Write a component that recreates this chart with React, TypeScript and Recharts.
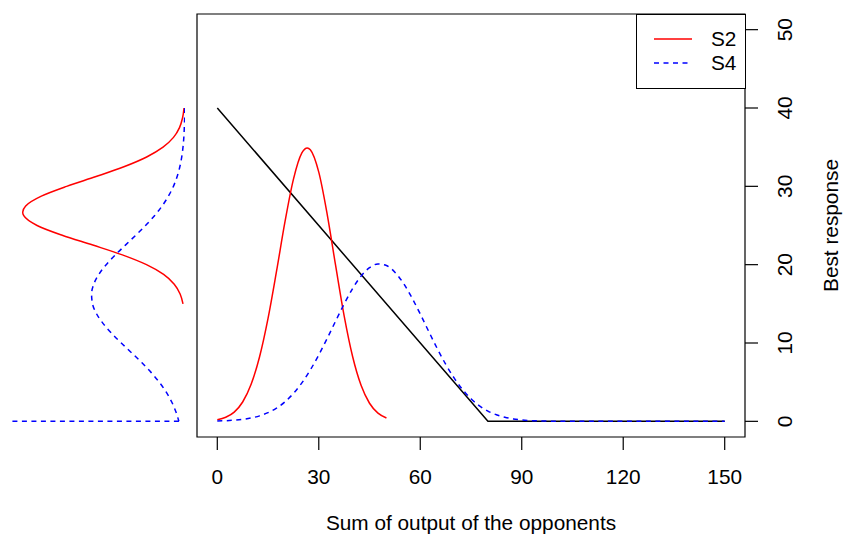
import React from 'react'
import { ComposedChart, LineChart, Line, XAxis, YAxis, ReferenceArea, Legend, Label } from 'recharts'

const FONT = '"Liberation Sans", Arial, Helvetica, sans-serif'
const FS = 20.8

// sum of output of the opponents, with the S2 density drawn over it
const s2Output = [0, 2.5, 5, 7.5, 10, 12.5, 15, 17.5, 20, 22.5, 25, 26.6, 27.5, 30, 32.5, 35, 37.5, 40, 42.5, 45, 47.5, 50]
const s2Density = [0.21, 0.52, 1.18, 2.47, 4.72, 8.24, 13.14, 19.13, 25.45, 30.89, 34.26, 34.9, 34.67, 31.81, 26.4, 19.83, 13.47, 8.28, 4.6, 2.31, 1.05, 0.43]

// S4 density (dashed blue)
const s4Output = [0, 2.5, 5, 7.5, 10, 12.5, 15, 17.5, 20, 22.5, 25, 27.5, 30, 32.5, 35, 37.5, 40, 42.5, 45, 47.5, 50, 52.5, 55, 57.5, 60, 62.5, 65, 67.5, 70, 72.5, 75, 77.5, 80, 82.5, 85, 87.5, 90, 92.5, 95, 97.5, 100, 110, 120, 130, 140, 150]
const s4Density = [0.04, 0.08, 0.15, 0.25, 0.43, 0.7, 1.11, 1.69, 2.49, 3.56, 4.91, 6.56, 8.48, 10.6, 12.81, 14.98, 16.95, 18.54, 19.62, 20.09, 19.89, 19.04, 17.64, 15.8, 13.7, 11.48, 9.31, 7.3, 5.54, 4.06, 2.88, 1.98, 1.31, 0.84, 0.52, 0.31, 0.18, 0.1, 0.06, 0.03, 0.02, 0, 0, 0, 0, 0]

// best response line
const brOutput = [0, 80, 150]
const brValue = [40, 0, 0]

// left margin: the same densities seen on the best-response scale
const s2Levels = [40, 38.75, 37.5, 36.25, 35, 33.75, 32.5, 31.25, 30, 28.75, 27.5, 26.7, 26.25, 25, 23.75, 22.5, 21.25, 20, 18.75, 17.5, 16.25, 15]
const s4Levels = [40, 38.75, 37.5, 36.25, 35, 33.75, 32.5, 31.25, 30, 28.75, 27.5, 26.25, 25, 23.75, 22.5, 21.25, 20, 18.75, 17.5, 16.25, 15, 13.75, 12.5, 11.25, 10, 8.75, 7.5, 6.25, 5, 3.75, 2.5, 1.25, 0]
const s4MassAtZero = 37.3

const xTicks = [0, 30, 60, 90, 120, 150]
const yTicks = [0, 10, 20, 30, 40, 50]

const toPoints = (xs: number[], ys: number[]) => xs.map((x, i) => ({ x, y: ys[i] }))
const toLevels = (levels: number[], widths: number[]) => levels.map((level, i) => ({ w: widths[i], level }))

const brPoints = toPoints(brOutput, brValue)
const s2Points = toPoints(s2Output, s2Density)
const s4Points = toPoints(s4Output, s4Density)
const s2Side = toLevels(s2Levels, s2Density)
const s4Side = toLevels(s4Levels, s4Density.slice(0, s4Levels.length))
const s4Mass = [
  { w: s4Density[s4Levels.length - 1], level: 0 },
  { w: s4MassAtZero, level: 0 },
]

const DASH = '5 4.5'

function RightTick(props: any) {
  const { x, y, payload } = props
  return (
    <text x={x} y={y} transform={`rotate(-90 ${x} ${y})`} textAnchor="middle" fontSize={FS} fontFamily={FONT} fill="#000">
      {payload.value}
    </text>
  )
}

function XTitle(props: any) {
  const { x, y, width } = props.viewBox
  return (
    <text x={x + width / 2} y={y + 93} textAnchor="middle" fontSize={FS} fontFamily={FONT} fill="#000">
      Sum of output of the opponents
    </text>
  )
}

function YTitle(props: any) {
  const { x, y, height } = props.viewBox
  const tx = x + 93
  const ty = y + height / 2
  return (
    <text x={tx} y={ty} transform={`rotate(-90 ${tx} ${ty})`} textAnchor="middle" fontSize={FS} fontFamily={FONT} fill="#000">
      Best response
    </text>
  )
}

function LegendBox(props: any) {
  const items = (props.payload || []).filter((p: any) => p.type !== 'none')
  return (
    <div style={{ position: 'relative', width: 110, height: 75, border: '1.2px solid #000', boxSizing: 'border-box', background: '#fff', fontFamily: FONT, fontSize: FS, color: '#000' }}>
      {items.map((item: any, i: number) => (
        <div key={item.value} style={{ position: 'absolute', left: 0, top: 12 + i * 24, height: 24, display: 'flex', alignItems: 'center' }}>
          <svg width={74} height={24}>
            <line x1={17} x2={55} y1={12} y2={12} stroke={item.color} strokeWidth={1.5} strokeDasharray={item.payload?.strokeDasharray} />
          </svg>
          <span>{item.value}</span>
        </div>
      ))}
    </div>
  )
}

export default function App() {
  return (
    <div style={{ position: 'absolute', left: 0, top: 0, width: 847, height: 536, background: '#fff', fontFamily: FONT }}>
      <div style={{ position: 'absolute', left: 0, top: 0 }}>
        <ComposedChart width={847} height={536} margin={{ top: 14, right: 0, bottom: 0, left: 197 }}>
          <XAxis
            type="number"
            dataKey="x"
            domain={[-6, 156]}
            allowDataOverflow
            ticks={xTicks}
            interval={0}
            height={99}
            axisLine={false}
            tickSize={13}
            tickMargin={19}
            tickLine={{ stroke: '#000', strokeWidth: 1.2 }}
            tick={{ fontSize: FS, fontFamily: FONT, fill: '#000' }}
          >
            <Label content={XTitle} />
          </XAxis>
          <YAxis
            orientation="right"
            type="number"
            domain={[-2, 52]}
            allowDataOverflow
            ticks={yTicks}
            interval={0}
            width={102}
            axisLine={false}
            tickSize={13}
            tickMargin={34}
            tickLine={{ stroke: '#000', strokeWidth: 1.2 }}
            tick={RightTick}
          >
            <Label content={YTitle} />
          </YAxis>
          <ReferenceArea x1={-6} x2={156} y1={-2} y2={52} fill="none" stroke="#000" strokeWidth={1.2} ifOverflow="visible" />
          <Line data={brPoints} dataKey="y" type="linear" stroke="#000" strokeWidth={1.5} dot={false} activeDot={false} legendType="none" isAnimationActive={false} />
          <Line data={s2Points} dataKey="y" name="S2" type="monotone" stroke="#ff0000" strokeWidth={1.5} dot={false} activeDot={false} isAnimationActive={false} />
          <Line data={s4Points} dataKey="y" name="S4" type="monotone" stroke="#0000ff" strokeWidth={1.5} strokeDasharray={DASH} dot={false} activeDot={false} isAnimationActive={false} />
          <Legend layout="vertical" align="center" verticalAlign="middle" wrapperStyle={{ left: 636, top: 14, width: 110 }} content={LegendBox} />
        </ComposedChart>
      </div>
      <div style={{ position: 'absolute', left: 0, top: 0 }}>
        <LineChart width={190} height={536} margin={{ top: 14, right: 5, bottom: 99, left: 0 }}>
          <XAxis type="number" dataKey="w" domain={[0, 39.78]} reversed allowDataOverflow hide />
          <YAxis type="number" domain={[-2, 52]} allowDataOverflow hide />
          <Line data={s2Side} dataKey="level" type="monotoneY" stroke="#ff0000" strokeWidth={1.5} dot={false} activeDot={false} isAnimationActive={false} />
          <Line data={s4Side} dataKey="level" type="monotoneY" stroke="#0000ff" strokeWidth={1.5} strokeDasharray={DASH} dot={false} activeDot={false} isAnimationActive={false} />
          <Line data={s4Mass} dataKey="level" type="linear" stroke="#0000ff" strokeWidth={1.5} strokeDasharray={DASH} dot={false} activeDot={false} isAnimationActive={false} />
        </LineChart>
      </div>
    </div>
  )
}
